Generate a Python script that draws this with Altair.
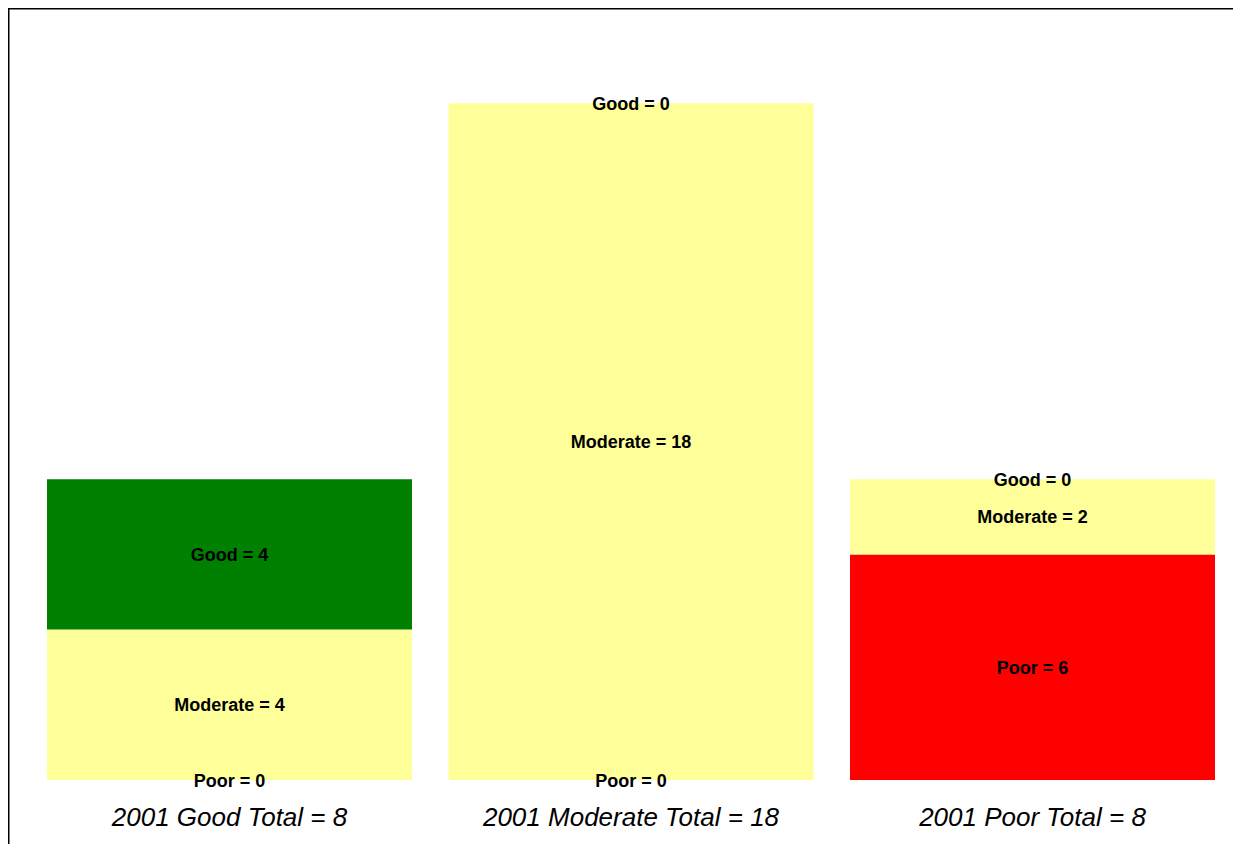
import altair as alt
import pandas as pd

groups = ["Good", "Moderate", "Poor"]
statuses = ["Poor", "Moderate", "Good"]  # bottom to top
good_counts = [4, 0, 0]
moderate_counts = [4, 18, 2]
poor_counts = [0, 0, 6]
status_colors = ["#FF0000", "#FFFF99", "#008000"]

totals = [g + m + p for g, m, p in zip(good_counts, moderate_counts, poor_counts)]
group_labels = [f"2001 {g} Total = {t}" for g, t in zip(groups, totals)]

rows = []
for i, lab in enumerate(group_labels):
    for k, (s, vals) in enumerate(zip(statuses, [poor_counts, moderate_counts, good_counts])):
        rows.append({"group": lab, "status": s, "value": vals[i], "order": k})
df = pd.DataFrame(rows)

W = 1223
H = 770
FONT = "Liberation Sans"

xscale = alt.Scale(domain=group_labels, range=[37, 1205], paddingInner=0.0909, paddingOuter=0)
yscale = alt.Scale(domain=[0, 20.48], nice=False, zero=True)

base = (
    alt.Chart(df)
    .transform_stack(
        stack="value", groupby=["group"], as_=["y0", "y1"],
        sort=[alt.SortField("order", order="ascending")],
    )
    .transform_calculate(
        mid="(datum.y0 + datum.y1) / 2",
        label="datum.status + ' = ' + datum.value",
    )
)

xenc = alt.X(
    "group:N", sort=group_labels, scale=xscale, title=None,
    axis=alt.Axis(
        domain=False, ticks=False, tickSize=0, labelAngle=0, labelFont=FONT,
        labelFontSize=26, labelFontStyle="italic", labelColor="#000000",
        labelPadding=24, grid=False, labelLimit=0,
    ),
)

bars = base.mark_bar().encode(
    x=xenc,
    y=alt.Y("y0:Q", scale=yscale, axis=None),
    y2="y1:Q",
    color=alt.Color("status:N", scale=alt.Scale(domain=statuses, range=status_colors), legend=None),
)

texts = base.mark_text(
    font=FONT, fontWeight="bold", fontSize=18, baseline="middle", align="center",
    color="#000000", dy=1.5,
).encode(
    x=alt.X("group:N", sort=group_labels, scale=xscale),
    y=alt.Y("mid:Q", scale=yscale),
    text="label:N",
)

frame_df = pd.DataFrame({"a": [0]})
top_rule = alt.Chart(frame_df).mark_rule(color="#000000", strokeWidth=2).encode(
    x=alt.value(-2), x2=alt.value(W + 10), y=alt.value(-1.5)
)
left_rule = alt.Chart(frame_df).mark_rule(color="#000000", strokeWidth=2).encode(
    x=alt.value(-1.5), y=alt.value(-2), y2=alt.value(H + 100)
)

chart = (
    alt.layer(bars, texts, top_rule, left_rule)
    .properties(
        width=W, height=H,
        autosize=alt.AutoSizeParams(type="none"),
        padding={"left": 2, "top": 2, "right": 0, "bottom": 64},
        background="white",
    )
    .configure_view(stroke=None)
)

chart.save("out.html", embed_options={"renderer": "svg", "actions": False})
